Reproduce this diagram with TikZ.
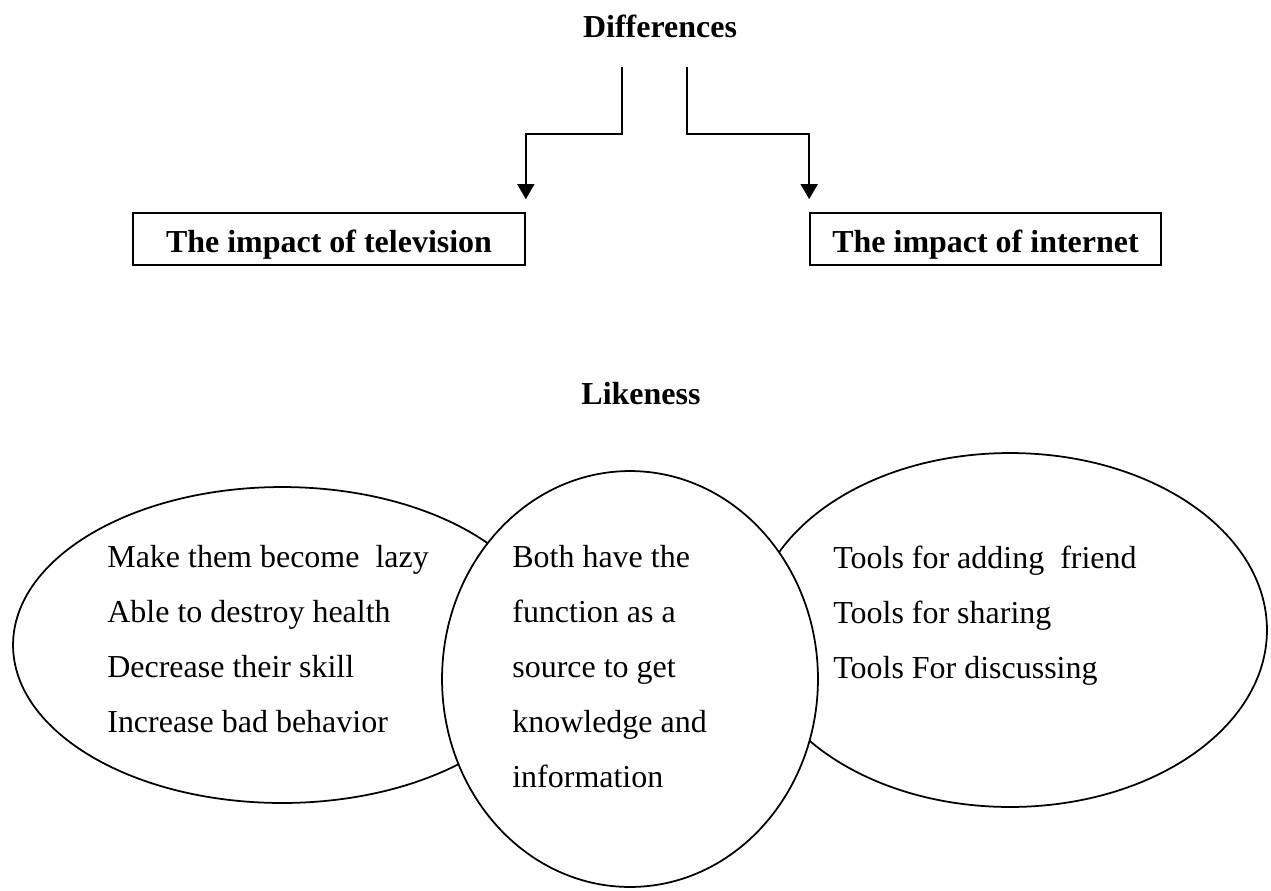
\documentclass[tikz,border=0pt]{standalone}
\usepackage{fontspec}
\setmainfont{Liberation Serif}
\usepackage{tikz}
\usetikzlibrary{shapes, arrows.meta}

\newcommand{\bodysize}{\fontsize{18.2}{31.3}\selectfont}

\tikzset{
    title/.style={font=\bodysize\bfseries},
    impactbox/.style={draw, line width=1pt, minimum height=1.04cm, text height=0.65cm, text depth=0.1cm, font=\bodysize\bfseries, inner sep=0pt},
    oval/.style={draw, ellipse, line width=1pt, inner sep=0pt},
    itemlist/.style={align=left, anchor=base west, inner sep=0pt, font=\bodysize},
    arr/.style={line width=1pt, -{Triangle[length=0.3cm, width=0.34cm]}}
}

\begin{document}
\begin{tikzpicture}[x=0.02cm, y=-0.02cm]
        \useasboundingbox (0,0) rectangle (1271,890);

        % Differences
        \node[title] (diff) at (660,26) {Differences};
        \coordinate (dl) at (622,67);
        \coordinate (dlb) at (622,134);
        \coordinate (dr) at (687,67);
        \coordinate (drb) at (687,134);

        % Impact boxes
        \node[impactbox, minimum width=7.84cm] (tv) at (329,239) {The impact of television};
        \node[impactbox, minimum width=7.02cm] (net) at (985.5,239) {The impact of internet};

        % Arrows
        \draw[arr, shorten >=0.26cm] (dl) -- (dlb) -| (tv.north east);
        \draw[arr, shorten >=0.26cm] (dr) -- (drb) -| (net.north west);

        % Likeness
        \node[title] (like) at (641,394) {Likeness};

        % Ovals
        \node[oval, minimum width=10.76cm, minimum height=6.32cm] (tvoval) at (282,645) {};
        \node[oval, minimum width=10.28cm, minimum height=7.08cm] (netoval) at (1010,630) {};
        \node[oval, fill=white, minimum width=7.52cm, minimum height=8.32cm] (both) at (630,679) {};

        % Lists (anchored at the baseline of their last line)
        \node[itemlist] (tvlist) at (107,732) {Make them become\ \ lazy \\ Able to destroy health \\ Decrease their skill \\ Increase bad behavior};
        \node[itemlist] (bothlist) at (512,787) {Both have the \\ function as a \\ source to get \\ knowledge and \\ information};
        \node[itemlist] (netlist) at (833,678) {Tools for adding\ \ friend \\ Tools for sharing \\ Tools For discussing};
    \end{tikzpicture}
\end{document}
